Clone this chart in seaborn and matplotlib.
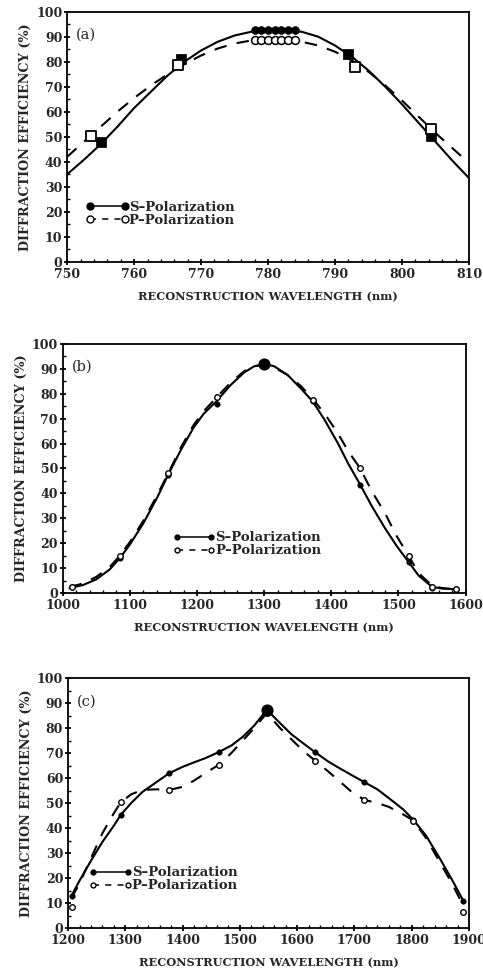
import numpy as np
import pandas as pd
import matplotlib
matplotlib.use("Agg")
import matplotlib.pyplot as plt
import seaborn as sns
from matplotlib.ticker import MultipleLocator

sns.set_theme(style="ticks")
plt.rcParams['font.family'] = ['DejaVu Serif']
plt.rcParams['font.weight'] = 'bold'

# ---- panel (a) : 780 nm ----
a_s_pts_x = [755, 767, 792, 804.3]
a_s_pts_y = [48, 81, 83, 50.5]
a_p_pts_x = [753.5, 766.5, 793, 804.3]
a_p_pts_y = [50.5, 78.5, 78, 53]
a_s_top_x = [778, 779, 780, 781, 782, 783, 784]
a_s_top_y = [92.5, 92.5, 92.5, 92.5, 92.5, 92.5, 92.5]
a_p_top_x = [778, 779, 780, 781, 782, 783, 784]
a_p_top_y = [88.5, 88.5, 88.5, 88.5, 88.5, 88.5, 88.5]
a_curve_x = [750, 752.5, 755, 757.5, 760, 762.5, 765, 767.5, 770, 772.5, 775, 777.5, 780,
             782.5, 785, 787.5, 790, 792.5, 795, 797.5, 800, 802.5, 805, 807.5, 810]
a_s_curve = [35, 40.8, 47, 54, 61.5, 68, 74.5, 80, 84.5, 88, 90.5, 92, 92.5,
             92.5, 92, 90, 86.5, 82, 76.5, 70, 63, 55.5, 48, 40.5, 33.5]
a_p_curve = [42, 48, 54, 60, 65.5, 70.5, 75, 79, 82.5, 85.3, 87.3, 88.5, 89,
             88.8, 88, 86.5, 84, 80.5, 76, 70.5, 64.5, 58, 51.5, 45.5, 39.5]

# ---- panel (b) : 1300 nm ----
b_x = [1013, 1085, 1157, 1229, 1300, 1372, 1443, 1515, 1550, 1585]
b_s = [2.5, 14, 47.5, 76, 92, 77, 43.5, 12.5, 2, 1.5]
b_p = [2.5, 15, 48, 78.5, 91.5, 77.5, 50, 15, 2.5, 1.5]
b_curve_x = [1010, 1030, 1050, 1070, 1085, 1100, 1120, 1140, 1157, 1175, 1195, 1210,
             1229, 1250, 1270, 1285, 1300, 1315, 1335, 1355, 1372, 1390, 1410, 1425,
             1443, 1460, 1480, 1497, 1515, 1530, 1550, 1565, 1585]
b_s_curve = [2, 3.2, 5.5, 9.5, 14, 19.5, 28, 38, 47.5, 57, 66.5, 72,
             77, 83.5, 88.5, 91, 92, 91, 87.5, 82, 77, 69.5, 60, 52,
             43.5, 35, 26, 19, 12.5, 7, 2.5, 1.8, 1.5]
b_p_curve = [2.5, 3.8, 6.5, 10.5, 15, 20.5, 29, 39, 48, 58, 67.5, 73,
             78.5, 84.5, 89, 91, 91.5, 90.5, 87.5, 83, 78, 72, 64, 57,
             50, 41, 32, 23, 15, 8, 3, 2, 1.5]

# ---- panel (c) : 1550 nm ----
c_x = [1206, 1292, 1377, 1463, 1547, 1631, 1717, 1803, 1890]
c_s = [13, 45.3, 62, 70.4, 87.3, 70.4, 58.4, 43.3, 11]
c_p = [8.3, 50.3, 55.3, 65.3, 86, 67, 51.3, 43, 6.4]
c_curve_x = [1206, 1220, 1240, 1260, 1280, 1292, 1310, 1330, 1355, 1377, 1400, 1420,
             1440, 1463, 1485, 1505, 1525, 1547, 1570, 1590, 1610, 1631, 1655, 1675,
             1695, 1717, 1740, 1760, 1785, 1803, 1825, 1850, 1870, 1890]
c_s_curve = [13, 19, 27, 34.5, 41, 45.3, 50, 54.5, 58.5, 62, 64.5, 66.3,
             68, 70.4, 73, 76.5, 81, 87.3, 82, 77.5, 74, 70.4, 66.5, 63.8,
             61.2, 58.4, 55.5, 52, 47.5, 43.3, 37, 27.5, 19.5, 11]
c_p_curve = [12, 18, 28, 38, 46, 50.3, 53.5, 55.3, 55.5, 55.3, 56.5, 59,
             62, 65.3, 70, 75, 80, 86, 80, 75.5, 71, 67, 62.5, 58.5,
             54.5, 51.3, 50, 48.5, 45.5, 43, 36, 26, 18, 9]

fig = plt.figure(figsize=(4.83, 9.77), dpi=100)
ax_a = fig.add_axes([0.139, 0.732, 0.832, 0.256])
ax_b = fig.add_axes([0.130, 0.393, 0.834, 0.255])
ax_c = fig.add_axes([0.141, 0.050, 0.830, 0.256])

LW = 1.5
DASH = (0, (6, 5))


def style_axis(ax, xlim, xmajor, xminor, tag):
    ax.set_xlim(*xlim)
    ax.set_ylim(0, 100)
    ax.xaxis.set_major_locator(MultipleLocator(xmajor))
    ax.xaxis.set_minor_locator(MultipleLocator(xminor))
    ax.yaxis.set_major_locator(MultipleLocator(10))
    ax.yaxis.set_minor_locator(MultipleLocator(5))
    ax.tick_params(which='major', direction='inout', length=5, width=1.3,
                   labelsize=9, color='black')
    ax.tick_params(axis='x', which='major', pad=2)
    ax.tick_params(axis='y', which='major', pad=1)
    ax.tick_params(which='minor', direction='in', length=2.5, width=1, color='black')
    for lab in ax.get_xticklabels() + ax.get_yticklabels():
        lab.set_fontweight('bold')
    for sp in ax.spines.values():
        sp.set_visible(True)
        sp.set_linewidth(1.3)
        sp.set_color('black')
    ax.set_xlabel('RECONSTRUCTION WAVELENGTH (nm)', fontsize=8.2, fontweight='bold', labelpad=7)
    ax.set_ylabel('DIFFRACTION EFFICIENCY (%)', fontsize=9.2, fontweight='bold', labelpad=3)
    ax.text(0.022, 0.935, tag, transform=ax.transAxes, fontsize=10.5,
            fontweight='normal', va='top', ha='left')
    ax.set_facecolor('white')


def add_legend(ax, ms, loc):
    s_h = plt.Line2D([], [], color='black', lw=1.1, ls='-', marker='o',
                     markersize=ms, markerfacecolor='black')
    p_h = plt.Line2D([], [], color='black', lw=1.1, ls=(0, (4, 4)), marker='o',
                     markersize=ms, markerfacecolor='white')
    ax.legend([s_h, p_h], ['S\u2013Polarization', 'P\u2013Polarization'],
              numpoints=2, handlelength=3.2, handletextpad=0.0, labelspacing=0.0,
              frameon=False, loc='lower left', bbox_to_anchor=loc, borderaxespad=0,
              prop=dict(size=9.5, weight='bold'))


# (a)
sns.lineplot(x=a_curve_x, y=a_s_curve, ax=ax_a, color='black', lw=LW, sort=False)
sns.lineplot(x=a_curve_x, y=a_p_curve, ax=ax_a, color='black', lw=LW,
             linestyle=DASH, sort=False)
sns.scatterplot(x=a_s_pts_x, y=a_s_pts_y, ax=ax_a, marker='s', s=45,
                color='black', edgecolor='black', zorder=4)
sns.scatterplot(x=a_p_pts_x, y=a_p_pts_y, ax=ax_a, marker='s', s=45,
                facecolor='white', edgecolor='black', linewidth=1.3, zorder=5)
sns.scatterplot(x=a_s_top_x, y=a_s_top_y, ax=ax_a, marker='o', s=32,
                color='black', edgecolor='black', zorder=4)
sns.scatterplot(x=a_p_top_x, y=a_p_top_y, ax=ax_a, marker='o', s=32,
                facecolor='white', edgecolor='black', linewidth=1.1, zorder=4)
style_axis(ax_a, (750, 810), 10, 2, '(a)')
add_legend(ax_a, 5, (0.035, 0.118))

# (b)
sns.lineplot(x=b_curve_x, y=b_s_curve, ax=ax_b, color='black', lw=LW, sort=False)
sns.lineplot(x=b_curve_x, y=b_p_curve, ax=ax_b, color='black', lw=LW,
             linestyle=DASH, sort=False)
sns.scatterplot(x=b_x, y=b_s, ax=ax_b, marker='o', s=16, color='black',
                edgecolor='black', zorder=4)
sns.scatterplot(x=b_x, y=b_p, ax=ax_b, marker='o', s=16, facecolor='white',
                edgecolor='black', linewidth=1, zorder=4)
ax_b.scatter([b_x[4]], [b_s[4]], s=60, color='black', zorder=5)
style_axis(ax_b, (1000, 1600), 100, 20, '(b)')
add_legend(ax_b, 3.5, (0.26, 0.122))

# (c)
sns.lineplot(x=c_curve_x, y=c_s_curve, ax=ax_c, color='black', lw=LW, sort=False)
sns.lineplot(x=c_curve_x, y=c_p_curve, ax=ax_c, color='black', lw=LW,
             linestyle=DASH, sort=False)
sns.scatterplot(x=c_x, y=c_s, ax=ax_c, marker='o', s=16, color='black',
                edgecolor='black', zorder=4)
sns.scatterplot(x=c_x, y=c_p, ax=ax_c, marker='o', s=16, facecolor='white',
                edgecolor='black', linewidth=1, zorder=4)
ax_c.scatter([c_x[4]], [c_s[4]], s=60, color='black', zorder=5)
style_axis(ax_c, (1200, 1900), 100, 20, '(c)')
add_legend(ax_c, 3.5, (0.04, 0.122))

fig.savefig('out.png', dpi=100, facecolor='white')
